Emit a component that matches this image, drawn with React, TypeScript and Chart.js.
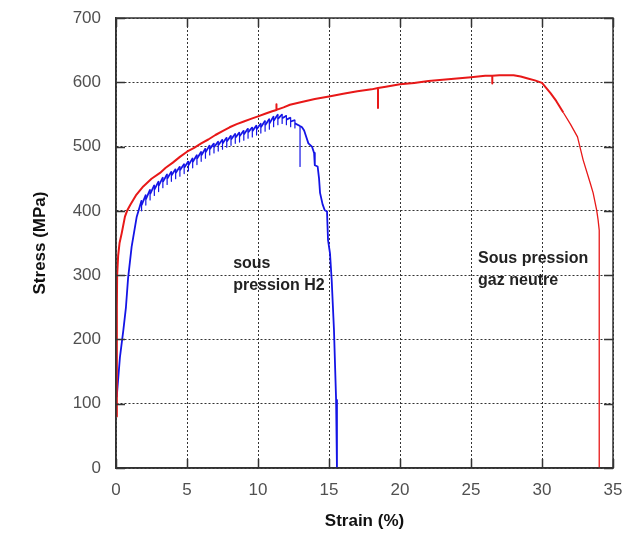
import React, { useEffect, useRef } from "react";
import { Chart, registerables } from "chart.js";

Chart.register(...registerables);

// Red curve: "Sous pression gaz neutre"
const redStrain = [0.05, 0.06, 0.08, 0.15, 0.25, 0.4, 0.63, 0.8, 1.0, 1.4, 1.92, 2.5, 3.1, 3.5, 4.0, 4.5, 5.0, 5.5, 6.0, 6.5, 7.0, 7.5, 8.0, 8.5, 9.0, 9.5, 10.0, 10.5, 11.0, 11.3, 11.3, 11.3, 11.8, 12.25, 13.0, 14.0, 15.0, 16.0, 17.0, 18.0, 18.45, 18.45, 18.45, 19.0, 20.0, 21.0, 22.0, 23.0, 24.0, 25.0, 26.0, 26.5, 26.5, 26.5, 27.0, 28.0, 28.5, 29.0, 29.5, 30.0, 30.6, 31.0, 31.5, 32.0, 32.5, 32.9, 33.4, 33.6, 33.85, 33.95, 34.03, 34.03];
const redStress = [80, 250, 300, 330, 350, 365, 391, 401, 409, 424, 438, 450, 459, 467, 475, 484, 492, 498, 505, 511, 518, 524, 530, 535, 539, 543, 547, 551, 555, 557, 566, 557, 561, 565, 569, 574, 578, 582, 586, 589, 591, 560, 591, 593, 597, 599, 602, 604, 606, 608, 610, 610, 598, 610, 611, 611, 609, 606, 603, 599, 583, 571, 553, 535, 515, 479, 443, 428, 401, 386, 370, 0];

// Blue curve: "sous pression H2"
const blueStrain = [0.05, 0.28, 0.52, 0.7, 0.85, 1.1, 1.46,
  1.8, 1.8, 1.8, 2.1, 2.1, 2.1, 2.4, 2.4, 2.4, 2.7, 2.7, 2.7, 3.0, 3.0, 3.0, 3.3, 3.3, 3.3,
  3.6, 3.6, 3.6, 3.9, 3.9, 3.9, 4.2, 4.2, 4.2, 4.5, 4.5, 4.5, 4.8, 4.8, 4.8, 5.1, 5.1, 5.1,
  5.4, 5.4, 5.4, 5.7, 5.7, 5.7, 6.0, 6.0, 6.0, 6.3, 6.3, 6.3, 6.6, 6.6, 6.6, 6.9, 6.9, 6.9,
  7.2, 7.2, 7.2, 7.5, 7.5, 7.5, 7.8, 7.8, 7.8, 8.1, 8.1, 8.1, 8.4, 8.4, 8.4, 8.7, 8.7, 8.7,
  9.0, 9.0, 9.0, 9.3, 9.3, 9.3, 9.6, 9.6, 9.6, 9.9, 9.9, 9.9, 10.2, 10.2, 10.2, 10.5, 10.5, 10.5,
  10.8, 10.8, 10.8, 11.1, 11.1, 11.1, 11.4, 11.4, 11.4, 11.7, 11.7, 11.7, 12.0, 12.0, 12.0,
  12.3, 12.3, 12.3, 12.6, 12.6, 12.6, 12.96, 12.96, 12.96,
  13.1, 13.25, 13.4, 13.55, 13.8, 13.95, 14.0, 14.2, 14.3, 14.37, 14.55, 14.7, 14.86, 14.93, 15.07, 15.19, 15.35, 15.5, 15.56];
const blueStress = [110, 173, 215, 250, 295, 344, 391,
  416, 400, 409, 425, 409, 418, 433, 417, 426, 440, 424, 433, 446, 430, 439, 452, 436, 445,
  457, 441, 450, 461, 446, 455, 465, 450, 459, 469, 454, 463, 473, 458, 467, 477, 462, 471,
  482, 467, 476, 487, 472, 481, 492, 477, 486, 497, 482, 491, 502, 487, 496, 505, 490, 499,
  508, 493, 502, 511, 496, 505, 514, 499, 508, 517, 502, 511, 520, 505, 514, 522, 507, 516,
  525, 510, 519, 528, 513, 522, 530, 515, 524, 533, 518, 527, 536, 521, 530, 540, 524, 533,
  543, 527, 536, 547, 531, 540, 550, 534, 543, 550, 536, 544, 548, 534, 542,
  545, 531, 539, 541, 529, 536, 532, 469, 532,
  530, 525, 515, 505, 500, 490, 471, 469, 450, 428, 410, 401, 399, 355, 334, 292, 215, 106, 0];

const xTickValues = [0, 5, 10, 15, 20, 25, 30, 35];
const yTickValues = [0, 100, 200, 300, 400, 500, 600, 700];

const annotations = [
  { lines: ["sous", "pression H2"], x: 8.25, y: 318 },
  { lines: ["Sous pression", "gaz neutre"], x: 25.5, y: 326 },
];

const framePlugin = {
  id: "framePlugin",
  afterDraw(chart: any) {
    const { ctx, chartArea } = chart;
    const { left, right, top, bottom } = chartArea;
    const xs = chart.scales.x;
    const ys = chart.scales.y;
    ctx.save();
    ctx.strokeStyle = "#333";
    ctx.lineWidth = 1.5;
    ctx.setLineDash([]);
    ctx.strokeRect(left, top, right - left, bottom - top);
    ctx.beginPath();
    const tl = 9;
    yTickValues.forEach((v) => {
      const py = Math.round(ys.getPixelForValue(v)) + 0.5;
      ctx.moveTo(left, py);
      ctx.lineTo(left + tl, py);
      ctx.moveTo(right, py);
      ctx.lineTo(right - tl, py);
    });
    xTickValues.forEach((v) => {
      const px = Math.round(xs.getPixelForValue(v)) + 0.5;
      ctx.moveTo(px, bottom);
      ctx.lineTo(px, bottom - tl);
      ctx.moveTo(px, top);
      ctx.lineTo(px, top + tl);
    });
    ctx.stroke();

    ctx.fillStyle = "#222";
    ctx.font = "bold 16px 'Liberation Sans', Arial, sans-serif";
    ctx.textAlign = "left";
    ctx.textBaseline = "middle";
    annotations.forEach((a) => {
      const px = xs.getPixelForValue(a.x);
      const py = ys.getPixelForValue(a.y);
      a.lines.forEach((line, i) => {
        ctx.fillText(line, px, py + i * 22);
      });
    });
    ctx.restore();
  },
};

export default function App() {
  const canvasRef = useRef<HTMLCanvasElement>(null);

  useEffect(() => {
    const canvas = canvasRef.current;
    if (!canvas) return;
    const redData = redStrain.map((x, i) => ({ x, y: redStress[i] }));
    const blueData = blueStrain.map((x, i) => ({ x, y: blueStress[i] }));
    const tickFont = { family: "'Liberation Sans', Arial, sans-serif", size: 17 };
    const titleFont = { family: "'Liberation Sans', Arial, sans-serif", size: 17, weight: "bold" as const };

    const chart = new Chart(canvas, {
      type: "line",
      data: {
        datasets: [
          {
            label: "Sous pression gaz neutre",
            data: redData,
            borderColor: "rgb(232,24,24)",
            borderWidth: 2,
            pointRadius: 0,
            tension: 0,
            borderJoinStyle: "round",
            segment: {
              borderWidth: (ctx: any) => (ctx.p0.parsed.x > 31.2 ? 1.3 : 2),
            },
          },
          {
            label: "sous pression H2",
            data: blueData,
            borderColor: "rgb(20,20,230)",
            borderWidth: 1.6,
            pointRadius: 0,
            tension: 0,
            borderJoinStyle: "round",
            segment: {
              borderWidth: (ctx: any) => (ctx.p0.parsed.x === ctx.p1.parsed.x ? 1.2 : 1.8),
            },
          },
        ],
      },
      options: {
        animation: false,
        responsive: false,
        devicePixelRatio: 1,
        layout: { padding: { left: 0, top: 18, right: 28, bottom: 0 } },
        plugins: { legend: { display: false }, tooltip: { enabled: false } },
        scales: {
          x: {
            type: "linear",
            min: 0,
            max: 35,
            afterBuildTicks: (scale: any) => {
              scale.ticks = xTickValues.map((v) => ({ value: v }));
            },
            afterFit: (scale: any) => {
              scale.height = 65;
              scale.paddingLeft = 0;
              scale.paddingRight = 0;
            },
            ticks: { color: "#505050", font: tickFont, padding: 12 },
            grid: { color: "#333", lineWidth: 1, drawTicks: false },
            border: { display: true, color: "#333", width: 1.5, dash: [2, 2] },
            title: {
              display: true,
              text: "Strain (%)",
              color: "#111",
              font: titleFont,
              padding: { top: 0, bottom: 1 },
            },
          },
          y: {
            type: "linear",
            min: 0,
            max: 700,
            afterBuildTicks: (scale: any) => {
              scale.ticks = yTickValues.map((v) => ({ value: v }));
            },
            afterFit: (scale: any) => {
              scale.width = 116;
              scale.paddingTop = 0;
              scale.paddingBottom = 0;
            },
            ticks: { color: "#505050", font: tickFont, padding: 15 },
            grid: { color: "#333", lineWidth: 1, drawTicks: false },
            border: { display: true, color: "#333", width: 1.5, dash: [2, 2] },
            title: {
              display: true,
              text: "Stress (MPa)",
              color: "#111",
              font: titleFont,
              padding: { top: 30, bottom: 0 },
            },
          },
        },
      },
      plugins: [framePlugin],
    });
    return () => chart.destroy();
  }, []);

  return (
    <div style={{ position: "absolute", left: 0, top: 0, width: 641, height: 533, background: "#fff" }}>
      <canvas ref={canvasRef} width={641} height={533} style={{ width: 641, height: 533 }} />
    </div>
  );
}
